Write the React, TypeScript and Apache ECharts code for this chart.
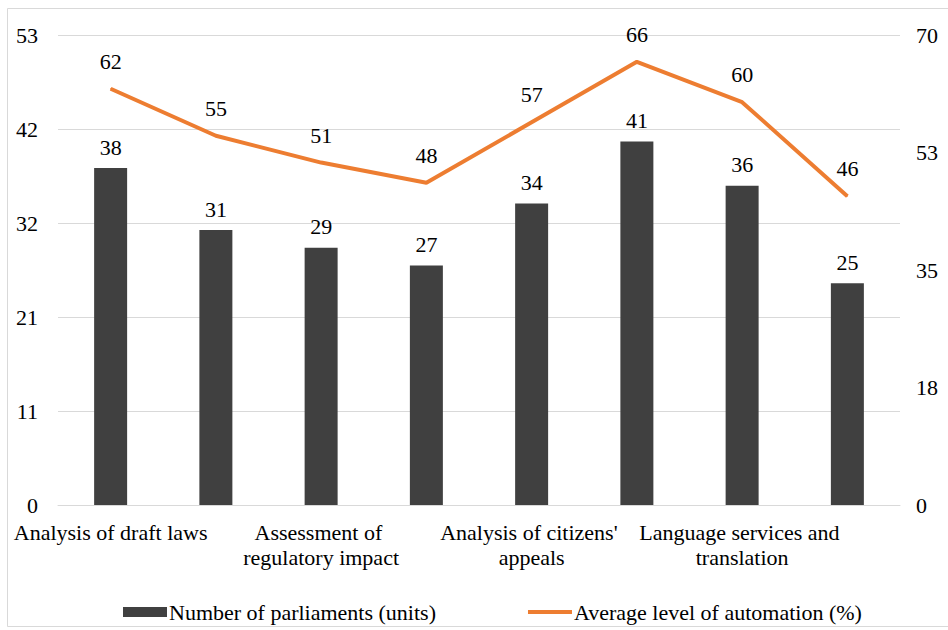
import React, { useEffect, useRef } from "react";
import * as echarts from "echarts";

const categories = [
  "Analysis of draft laws",
  "Category 2",
  "Assessment of regulatory impact",
  "Category 4",
  "Analysis of citizens' appeals",
  "Category 6",
  "Language services and translation",
  "Category 8",
];
const parliaments = [38, 31, 29, 27, 34, 41, 36, 25];
const automation = [62, 55, 51, 48, 57, 66, 60, 46];
const seriesNames = ["Number of parliaments (units)", "Average level of automation (%)"];

const FONT = "Liberation Serif";
const FS = 22;

export default function App() {
  const ref = useRef<HTMLDivElement>(null);
  useEffect(() => {
    if (!ref.current) return;
    const chart = echarts.init(ref.current, null, { renderer: "svg" });
    chart.setOption({
      animation: false,
      backgroundColor: "#ffffff",
      textStyle: { fontFamily: FONT },
      graphic: [
        {
          type: "rect",
          shape: { x: 7.5, y: 8.5, width: 945, height: 618 },
          style: { fill: "none", stroke: "#d9d9d9", lineWidth: 1 },
          silent: true,
        },
      ],
      grid: { left: 58, right: 48, top: 35, bottom: 125, containLabel: false, outerBoundsMode: "none" },
      legend: {
        left: 118,
        top: 596,
        itemGap: 90,
        itemWidth: 44,
        itemHeight: 10,
        textStyle: { fontFamily: FONT, fontSize: FS, color: "#000", padding: [0, 0, 0, -3] },
        data: [
          { name: seriesNames[0], icon: "rect" },
          { name: seriesNames[1], itemStyle: { opacity: 0 }, lineStyle: { width: 4, color: "#ED7D31" } },
        ],
      },
      xAxis: {
        type: "category",
        data: categories,
        axisTick: { show: false },
        axisLine: { show: true, lineStyle: { color: "#d9d9d9", width: 1 } },
        axisLabel: {
          interval: 1,
          margin: 15,
          fontFamily: FONT,
          fontSize: FS,
          color: "#000",
          width: 210,
          overflow: "break",
          lineHeight: 25,
        },
      },
      yAxis: [
        {
          type: "value",
          min: 0,
          max: 53,
          interval: 10.6,
          axisLine: { show: false },
          axisTick: { show: false },
          splitLine: { lineStyle: { color: "#d9d9d9", width: 1 } },
          axisLabel: {
            margin: 20,
            fontFamily: FONT,
            fontSize: FS,
            color: "#000",
            formatter: (v: number) => String(Math.round(v)),
          },
        },
        {
          type: "value",
          min: 0,
          max: 70,
          interval: 17.5,
          axisLine: { show: false },
          axisTick: { show: false },
          splitLine: { show: false },
          axisLabel: {
            margin: 16,
            fontFamily: FONT,
            fontSize: FS,
            color: "#000",
            formatter: (v: number) => String(Math.round(v)),
          },
        },
      ],
      series: [
        {
          name: seriesNames[0],
          type: "bar",
          data: parliaments,
          barWidth: 33,
          itemStyle: { color: "#404040" },
          label: { show: true, position: "top", distance: 10, fontFamily: FONT, fontSize: FS, color: "#000" },
        },
        {
          name: seriesNames[1],
          type: "line",
          yAxisIndex: 1,
          data: automation,
          symbol: "circle",
          symbolSize: 1,
          showSymbol: true,
          lineStyle: { color: "#ED7D31", width: 4 },
          itemStyle: { color: "#ED7D31" },
          label: { show: true, position: "top", distance: 16, fontFamily: FONT, fontSize: FS, color: "#000" },
        },
      ],
    });
    return () => chart.dispose();
  }, []);
  return (
    <div
      ref={ref}
      style={{ position: "fixed", left: 0, top: 0, width: 948, height: 630, background: "#fff" }}
    />
  );
}
